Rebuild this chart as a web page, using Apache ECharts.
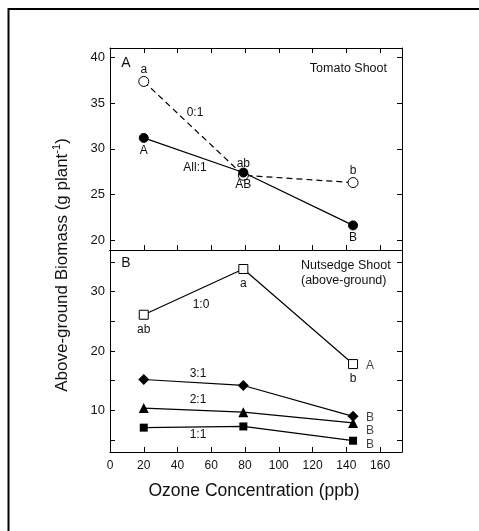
<!DOCTYPE html>
<html>
<head>
<meta charset="utf-8">
<script src="https://cdn.jsdelivr.net/npm/echarts@6/dist/echarts.min.js"></script>
<style>
  html, body { margin: 0; padding: 0; background: #fff; }
  #chart { width: 479px; height: 531px; }
</style>
</head>
<body>
<div id="chart"></div>
<script>
// Ozone levels (ppb) shared by every treatment
const ozone = [20, 79, 144];

// Panel A: tomato shoot biomass (g plant-1)
const tomato01 = [37.4, 27.1, 26.3];
const tomatoAll1 = [31.2, 27.4, 21.6];
const tomato01Letters = ['a', 'ab', 'b'];
const tomatoAll1Letters = ['A', 'AB', 'B'];

// Panel B: nutsedge shoot biomass (g plant-1)
const sedge10 = [26.1, 33.8, 17.8];
const sedge31 = [15.2, 14.2, 9.0];
const sedge21 = [10.4, 9.7, 7.9];
const sedge11 = [7.1, 7.3, 4.9];
const sedge10Letters = ['ab', 'a', 'b'];
const sedgeGroupLetters = ['A', 'B', 'B', 'B'];

// Tick labels
const xTicks = [0, 20, 40, 60, 80, 100, 120, 140, 160];
const xInnerTicks = [20, 40, 60, 80, 100, 120, 140, 160];
const yTicksA = [20, 25, 30, 35, 40];
const yTicksB = [5, 10, 15, 20, 25, 30, 35];
const yLabelsB = [10, 20, 30];

const FONT = 'Liberation Sans, Arial, sans-serif';
const chart = echarts.init(document.getElementById('chart'), null, { renderer: 'canvas' });

function points(ys, letters, pos, dist) {
  return ozone.map((x, i) => {
    const item = { value: [x, ys[i]] };
    if (letters && letters[i]) {
      item.label = { show: true, formatter: letters[i], position: pos, distance: dist };
    }
    return item;
  });
}

function xAxis(grid, position, opts) {
  return Object.assign({
    type: 'value', gridIndex: grid, position: position, min: 0, max: 173,
    axisLine: { show: true, onZero: false, lineStyle: { color: '#000', width: 1 } },
    axisTick: { show: true, inside: true, length: 5, customValues: xInnerTicks, lineStyle: { color: '#000' } },
    axisLabel: { show: false },
    splitLine: { show: false }
  }, opts || {});
}

function yAxis(grid, position, min, max, ticks, labels) {
  return {
    type: 'value', gridIndex: grid, position: position, min: min, max: max,
    axisLine: { show: true, onZero: false, lineStyle: { color: '#000', width: 1 } },
    axisTick: { show: true, inside: true, length: 5, customValues: ticks, lineStyle: { color: '#000' } },
    axisLabel: labels ? { show: true, customValues: labels, color: '#111', fontSize: 13, fontFamily: FONT, margin: 5 } : { show: false },
    splitLine: { show: false }
  };
}

const lineBase = {
  type: 'line', lineStyle: { color: '#000', width: 1.2 },
  label: { color: '#111', fontSize: 12, fontFamily: FONT },
  emphasis: { disabled: true }, animation: false
};

function groupLabel(ys, letter, dy) {
  return {
    type: 'scatter', xAxisIndex: 2, yAxisIndex: 2, symbolSize: 0, silent: true, animation: false,
    data: [{ value: [ozone[2], ys[2]] }],
    label: { show: true, formatter: letter, position: 'right', distance: 13, offset: [0, dy],
             color: '#111', fontSize: 12, fontFamily: FONT },
    z: 5
  };
}

const option = {
  backgroundColor: '#fff',
  animation: false,
  grid: [
    { left: 110, top: 48, width: 292, height: 202 },
    { left: 110, top: 250, width: 292, height: 202 }
  ],
  xAxis: [
    xAxis(0, 'bottom'),
    xAxis(0, 'top'),
    xAxis(1, 'bottom', {
      axisLabel: { show: true, customValues: xTicks, color: '#111', fontSize: 12, fontFamily: FONT, margin: 8 }
    }),
    xAxis(1, 'top', { axisTick: { show: false } })
  ],
  yAxis: [
    yAxis(0, 'left', 18.9, 41.07, yTicksA, yTicksA),
    yAxis(0, 'right', 18.9, 41.07, yTicksA, null),
    yAxis(1, 'left', 3, 37, yTicksB, yLabelsB),
    yAxis(1, 'right', 3, 37, yTicksB, null)
  ],
  series: [
    Object.assign({}, lineBase, {
      name: '0:1', xAxisIndex: 0, yAxisIndex: 0,
      data: points(tomato01, tomato01Letters, 'top', 0),
      lineStyle: { color: '#000', width: 1.2, type: [6, 4] },
      symbol: 'circle', symbolSize: 10,
      itemStyle: { color: '#fff', borderColor: '#000', borderWidth: 1 }
    }),
    Object.assign({}, lineBase, {
      name: 'All:1', xAxisIndex: 0, yAxisIndex: 0,
      data: points(tomatoAll1, tomatoAll1Letters, 'bottom', 1.5),
      symbol: 'circle', symbolSize: 9,
      itemStyle: { color: '#000', borderColor: '#000', borderWidth: 1 }
    }),
    Object.assign({}, lineBase, {
      name: '1:0', xAxisIndex: 2, yAxisIndex: 2,
      data: points(sedge10, sedge10Letters, 'bottom', 4),
      symbol: 'rect', symbolSize: 9,
      itemStyle: { color: '#fff', borderColor: '#000', borderWidth: 1 }
    }),
    Object.assign({}, lineBase, {
      name: '3:1', xAxisIndex: 2, yAxisIndex: 2,
      data: points(sedge31),
      symbol: 'diamond', symbolSize: 11,
      itemStyle: { color: '#000' }
    }),
    Object.assign({}, lineBase, {
      name: '2:1', xAxisIndex: 2, yAxisIndex: 2,
      data: points(sedge21),
      symbol: 'triangle', symbolSize: 10,
      itemStyle: { color: '#000' }
    }),
    Object.assign({}, lineBase, {
      name: '1:1', xAxisIndex: 2, yAxisIndex: 2,
      data: points(sedge11),
      symbol: 'rect', symbolSize: 8,
      itemStyle: { color: '#000' }
    }),
    groupLabel(sedge10, sedgeGroupLetters[0], 2),
    groupLabel(sedge31, sedgeGroupLetters[1], 1),
    groupLabel(sedge21, sedgeGroupLetters[2], 8),
    groupLabel(sedge11, sedgeGroupLetters[3], 4)
  ],
  graphic: [
    // outer frame
    { type: 'line', shape: { x1: 8, y1: 9, x2: 479, y2: 9 }, style: { stroke: '#000', lineWidth: 2 }, z: 100 },
    { type: 'line', shape: { x1: 8.5, y1: 8, x2: 8.5, y2: 531 }, style: { stroke: '#000', lineWidth: 2 }, z: 100 },
    // panel captions
    { type: 'text', x: 126, y: 63, style: { text: 'A', fill: '#111', font: '14px ' + FONT, align: 'center', verticalAlign: 'middle' } },
    { type: 'text', x: 387, y: 69, style: { text: 'Tomato Shoot', fill: '#111', font: '12.5px ' + FONT, align: 'right', verticalAlign: 'middle' } },
    { type: 'text', x: 126, y: 263, style: { text: 'B', fill: '#111', font: '14px ' + FONT, align: 'center', verticalAlign: 'middle' } },
    { type: 'text', x: 301, y: 266, style: { text: 'Nutsedge Shoot', fill: '#111', font: '12.5px ' + FONT, align: 'left', verticalAlign: 'middle' } },
    { type: 'text', x: 301, y: 281, style: { text: '(above-ground)', fill: '#111', font: '12.5px ' + FONT, align: 'left', verticalAlign: 'middle' } },
    // series names along the lines
    { type: 'text', x: 195, y: 113, style: { text: '0:1', fill: '#111', font: '12px ' + FONT, align: 'center', verticalAlign: 'middle' } },
    { type: 'text', x: 195, y: 168, style: { text: 'All:1', fill: '#111', font: '12px ' + FONT, align: 'center', verticalAlign: 'middle' } },
    { type: 'text', x: 201, y: 305, style: { text: '1:0', fill: '#111', font: '12px ' + FONT, align: 'center', verticalAlign: 'middle' } },
    { type: 'text', x: 198, y: 374, style: { text: '3:1', fill: '#111', font: '12px ' + FONT, align: 'center', verticalAlign: 'middle' } },
    { type: 'text', x: 198, y: 400, style: { text: '2:1', fill: '#111', font: '12px ' + FONT, align: 'center', verticalAlign: 'middle' } },
    { type: 'text', x: 198, y: 435, style: { text: '1:1', fill: '#111', font: '12px ' + FONT, align: 'center', verticalAlign: 'middle' } },
    // axis titles
    { type: 'text', x: 254, y: 491, style: { text: 'Ozone Concentration (ppb)', fill: '#111', font: '17.5px ' + FONT, align: 'center', verticalAlign: 'middle' } },
    {
      type: 'text', x: 61, y: 265, rotation: Math.PI / 2,
      style: {
        text: '{m|Above-ground Biomass (g plant}{s|-1}{m|)}',
        align: 'center', verticalAlign: 'middle', fill: '#111',
        rich: {
          m: { fontSize: 17, fontFamily: FONT, fill: '#111', lineHeight: 20, verticalAlign: 'bottom' },
          s: { fontSize: 11, fontFamily: FONT, fill: '#111', lineHeight: 20, verticalAlign: 'top', padding: [0, 0, 6, 0] }
        }
      }
    }
  ]
};

chart.setOption(option);
</script>
</body>
</html>
